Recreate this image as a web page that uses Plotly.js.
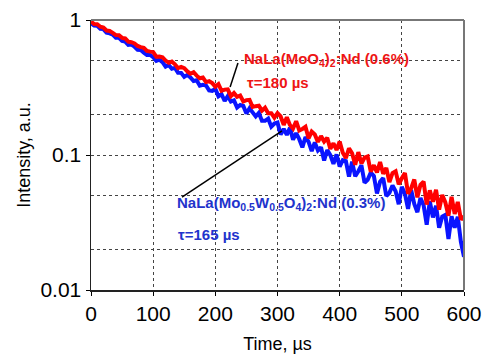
<!DOCTYPE html>
<html>
<head>
<meta charset="utf-8">
<script src="https://cdn.plot.ly/plotly-3.0.1.min.js"></script>
<style>html,body{margin:0;padding:0;background:#fff;}#chart{width:482px;height:354px;}</style>
</head>
<body>
<div id="chart"></div>
<script>
// time axis (µs), 5 µs steps
const time = [0,5,10,15,20,25,30,35,40,45,50,55,60,65,70,75,80,85,90,95,
  100,105,110,115,120,125,130,135,140,145,150,155,160,165,170,175,180,185,190,195,
  200,205,210,215,220,225,230,235,240,245,250,255,260,265,270,275,280,285,290,295,
  300,305,310,315,320,325,330,335,340,345,350,355,360,365,370,375,380,385,390,395,
  400,405,410,415,420,425,430,435,440,445,450,455,460,465,470,475,480,485,490,495,
  500,505,510,515,520,525,530,535,540,545,550,555,560,565,570,575,580,585,590,595,600];

// NaLa(MoO4)2:Nd (0.6%), tau = 180 us
const redIntensity = [0.975,0.933,0.931,0.892,0.878,0.835,0.830,0.804,0.773,0.770,0.737,0.730,0.692,0.685,0.671,0.642,0.629,0.622,0.591,0.583,
  0.579,0.535,0.537,0.530,0.501,0.482,0.493,0.470,0.441,0.450,0.440,0.416,0.400,0.410,0.387,0.370,0.375,0.347,0.352,0.341,
  0.321,0.335,0.299,0.305,0.306,0.273,0.288,0.270,0.276,0.249,0.255,0.256,0.227,0.230,0.232,0.213,0.224,0.204,0.204,0.189,
  0.204,0.193,0.167,0.190,0.167,0.157,0.178,0.152,0.156,0.162,0.133,0.149,0.142,0.125,0.138,0.126,0.134,0.111,0.122,0.109,
  0.126,0.104,0.0948,0.112,0.103,0.0848,0.105,0.0864,0.0957,0.0977,0.0752,0.0840,0.0744,0.0888,0.0725,0.0802,0.0630,0.0733,0.0757,0.0607,
  0.0673,0.0736,0.0516,0.0568,0.0658,0.0486,0.0603,0.0635,0.0430,0.0547,0.0451,0.0553,0.0394,0.0506,0.0445,0.0355,0.0490,0.0366,0.0449,0.0333,0.0351];

// NaLa(Mo0.5W0.5O4)2:Nd (0.3%), tau = 165 us
const blueIntensity = [0.945,0.908,0.905,0.860,0.856,0.804,0.796,0.780,0.738,0.738,0.701,0.692,0.654,0.658,0.634,0.602,0.600,0.573,0.550,0.551,
  0.531,0.498,0.509,0.487,0.451,0.464,0.435,0.442,0.407,0.406,0.379,0.392,0.376,0.353,0.358,0.326,0.331,0.327,0.301,0.298,
  0.309,0.272,0.282,0.251,0.273,0.249,0.254,0.225,0.235,0.231,0.203,0.222,0.207,0.193,0.205,0.179,0.179,0.186,0.162,0.171,
  0.174,0.142,0.156,0.141,0.159,0.130,0.145,0.131,0.114,0.136,0.125,0.107,0.124,0.108,0.114,0.0911,0.109,0.0997,0.0859,0.101,
  0.0822,0.0915,0.0900,0.0692,0.0894,0.0695,0.0758,0.0839,0.0623,0.0656,0.0740,0.0700,0.0519,0.0634,0.0674,0.0497,0.0524,0.0594,0.0539,0.0432,
  0.0582,0.0516,0.0399,0.0552,0.0434,0.0377,0.0480,0.0425,0.0304,0.0454,0.0345,0.0421,0.0289,0.0350,0.0360,0.0239,0.0352,0.0289,0.0349,0.0227,0.0176];

const yTickVals = [0.01, 0.1, 1];
const yTickText = ['0.01', '0.1', '1'];
const yMinorVals = [0.02, 0.05, 0.2, 0.5];
const xTickVals = [0, 100, 200, 300, 400, 500, 600];

const redLabel1 = 'NaLa(MoO<sub>4</sub>)<sub>2</sub>:Nd (0.6%)';
const redLabel2 = 'τ=180 µs';
const blueLabel1 = 'NaLa(Mo<sub>0.5</sub>W<sub>0.5</sub>O<sub>4</sub>)<sub>2</sub>:Nd (0.3%)';
const blueLabel2 = 'τ=165 µs';

const FONT = 'Arial, "Liberation Sans", sans-serif';

const traces = [
  {x: time, y: blueIntensity, type: 'scatter', mode: 'lines',
   line: {color: '#0a14ff', width: 4, simplify: false}, hoverinfo: 'skip'},
  {x: time, y: redIntensity, type: 'scatter', mode: 'lines',
   line: {color: '#ff0000', width: 4, simplify: false}, hoverinfo: 'skip'}
];

const gridStyle = {gridcolor: '#444', griddash: 'dot', gridwidth: 1};

const layout = {
  width: 482, height: 354,
  margin: {l: 91, r: 18, t: 20, b: 64},
  paper_bgcolor: '#fff', plot_bgcolor: '#fff',
  showlegend: false,
  font: {family: FONT, color: '#000'},
  xaxis: Object.assign({
    range: [0, 600], tickvals: xTickVals, ticks: 'outside', ticklen: 4, tickcolor: '#000',
    showline: true, linecolor: '#222', linewidth: 1.5, zeroline: false, showgrid: true,
    tickfont: {size: 21, family: FONT, color: '#000'},
    title: {text: 'Time, µs', font: {size: 18, family: FONT, color: '#000'}, standoff: 14}
  }, gridStyle),
  yaxis: Object.assign({
    type: 'log', range: [-2, 0], tickvals: yTickVals, ticktext: yTickText,
    ticks: 'outside', ticklen: 4, tickcolor: '#000',
    showline: true, linecolor: '#222', linewidth: 1.5, zeroline: false, showgrid: true,
    tickfont: {size: 21, family: FONT, color: '#000'},
    minor: {tickvals: yMinorVals, showgrid: true, gridcolor: '#444', griddash: 'dot', gridwidth: 1, ticks: ''},
    title: {text: 'Intensity, a.u.', font: {size: 18, family: FONT, color: '#000'}, standoff: 5}
  }, gridStyle),
  shapes: [
    {type: 'line', xref: 'paper', yref: 'paper', x0: 0, x1: 1, y0: 1, y1: 1, line: {color: '#777', width: 2}},
    {type: 'line', xref: 'paper', yref: 'paper', x0: 1, x1: 1, y0: 0, y1: 1, line: {color: '#777', width: 2}},
    {type: 'line', xref: 'paper', yref: 'paper', x0: 0.394, y0: 0.841, x1: 0.373, y1: 0.752, line: {color: '#000', width: 1.5}},
    {type: 'line', xref: 'paper', yref: 'paper', x0: 0.244, y0: 0.344, x1: 0.512, y1: 0.589, line: {color: '#000', width: 1.5}}
  ],
  annotations: [
    {xref: 'paper', yref: 'paper', x: 0.405, y: 0.852, xanchor: 'left', yanchor: 'middle', showarrow: false,
     text: '<b>' + redLabel1 + '</b>', font: {size: 15, family: FONT, color: '#ee1515'}},
    {xref: 'paper', yref: 'paper', x: 0.413, y: 0.767, xanchor: 'left', yanchor: 'middle', showarrow: false,
     text: '<b>' + redLabel2 + '</b>', font: {size: 15, family: FONT, color: '#ee1515'}},
    {xref: 'paper', yref: 'paper', x: 0.225, y: 0.322, xanchor: 'left', yanchor: 'middle', showarrow: false,
     text: '<b>' + blueLabel1 + '</b>', font: {size: 15, family: FONT, color: '#2233cc'}},
    {xref: 'paper', yref: 'paper', x: 0.228, y: 0.204, xanchor: 'left', yanchor: 'middle', showarrow: false,
     text: '<b>' + blueLabel2 + '</b>', font: {size: 15, family: FONT, color: '#2233cc'}}
  ]
};

Plotly.newPlot('chart', traces, layout, {staticPlot: true, displayModeBar: false});
</script>
</body>
</html>
